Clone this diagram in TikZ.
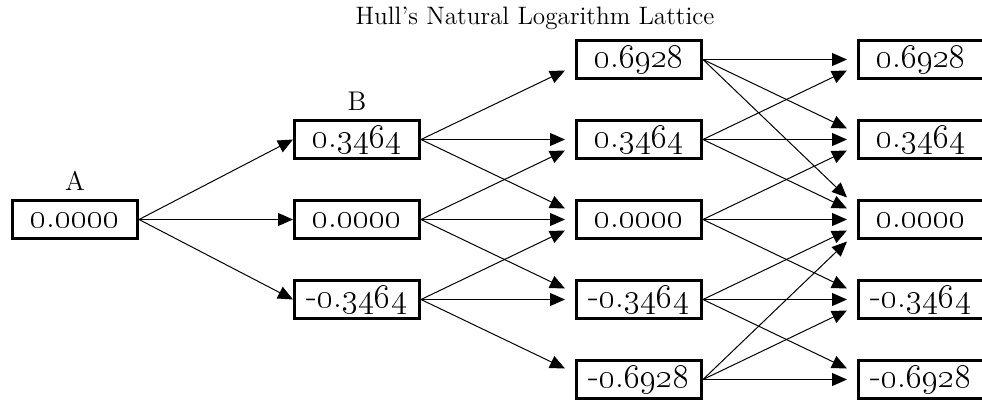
\documentclass[tikz,border=0pt]{standalone}
\usetikzlibrary{arrows.meta,positioning}
\newcommand{\osn}[2]{\oldstylenums{#1}.\oldstylenums{#2}}

\begin{document}
\begin{tikzpicture}[x=0.5pt, y=-0.5pt, >={Triangle[length=7.5pt,width=6.5pt]},
  node distance=19.5pt and 77pt,
  box/.style={draw, line width=1.5pt, minimum width=62.5pt, minimum height=19pt,
    inner sep=0pt, text height=7.6pt, text depth=0pt, font=\fontsize{17.6}{20}\selectfont},
  lbl/.style={inner sep=0pt, outer sep=0pt, font=\fontsize{13.5}{16}\selectfont},
  arr/.style={->, line width=0.5pt}]
  \useasboundingbox (0,0) rectangle (982,402);
  \node (title) [lbl, font=\fontsize{12.6}{15}\selectfont] at (535,18) {Hull's Natural Logarithm Lattice};
  \node (a) [box] at (75,219.5) {\osn{0}{0000}};
  \node (bm) [box, right=of a] {\osn{0}{0000}};
  \node (bu) [box, above=of bm] {\osn{0}{3464}};
  \node (bd) [box, below=of bm] {-\osn{0}{3464}};
  \node (cm) [box, right=of bm] {\osn{0}{0000}};
  \node (cu) [box, above=of cm] {\osn{0}{3464}};
  \node (cuu) [box, above=of cu] {\osn{0}{6928}};
  \node (cd) [box, below=of cm] {-\osn{0}{3464}};
  \node (cdd) [box, below=of cd] {-\osn{0}{6928}};
  \node (dm) [box, right=of cm] {\osn{0}{0000}};
  \node (du) [box, above=of dm] {\osn{0}{3464}};
  \node (duu) [box, above=of du] {\osn{0}{6928}};
  \node (dd) [box, below=of dm] {-\osn{0}{3464}};
  \node (ddd) [box, below=of dd] {-\osn{0}{6928}};
  \node (la) [lbl, above=4.5pt of a] {A};
  \node (lb) [lbl, above=4.5pt of bu] {B};
  \foreach \s/\t in {bu,bm,bd}
    \draw[arr] (a.east) -- (\t.west);
  \foreach \s/\t/\d in {bu/cuu/-1,bu/cu/0,bu/cm/1,bm/cu/-1,bm/cm/0,bm/cd/1,
      bd/cm/-1,bd/cd/0,bd/cdd/1,
      cuu/duu/0,cuu/du/1,cuu/dm/2,cu/duu/-1,cu/du/0,cu/dm/1,
      cm/du/-1,cm/dm/0,cm/dd/1,cd/dm/-1,cd/dd/0,cd/ddd/1,
      cdd/dm/-2,cdd/dd/-1,cdd/ddd/0}
    \draw[arr] (\s.east) -- ([xshift=-5pt,yshift=\d*5.5pt]\t.west);
\end{tikzpicture}
\end{document}
